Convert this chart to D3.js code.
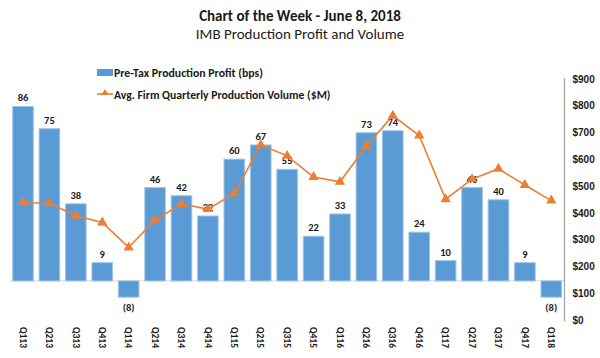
<!DOCTYPE html>
<html><head><meta charset="utf-8">
<script src="https://cdn.jsdelivr.net/npm/d3@7"></script>
<style>
body{margin:0;background:#fff;}
svg{display:block;font-family:Carlito,Lato,"Open Sans",sans-serif;}
</style></head>
<body><svg id="c" width="600" height="358"></svg>
<script>
const categories = ["Q113","Q213","Q313","Q413","Q114","Q214","Q314","Q414","Q115","Q215","Q315","Q415","Q116","Q216","Q316","Q416","Q117","Q217","Q317","Q417","Q118"];
const profit = [86,75,38,9,-8,46,42,32,60,67,55,22,33,73,74,24,10,46,40,9,-8];
const volume = [438,436,389,364,271,374,433,414,473,654,613,534,516,650,763,689,451,526,565,504,446];
const rightTicks = [0,100,200,300,400,500,600,700,800,900];
const title = "Chart of the Week - June 8, 2018";
const subtitle = "IMB Production Profit and Volume";
const legendLabels = ["Pre-Tax Production Profit (bps)","Avg. Firm Quarterly Production Volume ($M)"];

const svg = d3.select("#c");
const pTop = 78, pBottom = 321.5, pLeft = 9.8, pRight = 564.5;
const x = d3.scaleBand().domain(categories).range([pLeft, pRight]).paddingInner(0.22).paddingOuter(0.11);
const yL = d3.scaleLinear().domain([-20,100]).range([pBottom, pTop]);
const yR = d3.scaleLinear().domain([0,900]).range([pBottom-1.5, pTop+1]);

svg.append("text").attr("x",300).attr("y",21).attr("text-anchor","middle")
  .attr("font-size",15).attr("font-weight","bold").attr("fill","#1a1a1a").text(title);
svg.append("text").attr("x",300).attr("y",39).attr("text-anchor","middle")
  .attr("font-size",15).attr("fill","#1a1a1a").text(subtitle);

// zero line
svg.append("line").attr("x1",pLeft).attr("x2",pRight).attr("y1",yL(0)).attr("y2",yL(0))
  .attr("stroke","#d9d9d9").attr("stroke-width",1);

// bars
svg.append("g").selectAll("rect").data(profit).join("rect")
  .attr("x",(d,i)=>x(categories[i]))
  .attr("width",x.bandwidth())
  .attr("y",d=>yL(Math.max(0,d)))
  .attr("height",d=>Math.abs(yL(d)-yL(0)))
  .attr("fill","#5b9bd5").attr("stroke","#9fc4e8").attr("stroke-width",1);

// bar labels
svg.append("g").selectAll("text").data(profit).join("text")
  .attr("x",(d,i)=>x(categories[i])+x.bandwidth()/2)
  .attr("y",d=>d>=0? yL(d)-5 : yL(d)+14)
  .attr("text-anchor","middle").attr("font-size",10.5).attr("font-weight","bold").attr("fill","#1a1a1a")
  .text(d=>d<0?`(${-d})`:d);

// line
const line = d3.line().x((d,i)=>x(categories[i])+x.bandwidth()/2).y(d=>yR(d));
svg.append("path").datum(volume).attr("d",line).attr("fill","none")
  .attr("stroke","#ed7d31").attr("stroke-width",1.6);
const tri = d3.symbol().type(d3.symbolTriangle).size(46);
svg.append("g").selectAll("path").data(volume).join("path")
  .attr("transform",(d,i)=>`translate(${x(categories[i])+x.bandwidth()/2},${yR(d)})`)
  .attr("d",tri).attr("fill","#ed7d31");

// right axis
const axR = d3.axisRight(yR).tickValues(rightTicks).tickSize(0).tickPadding(8).tickFormat(d=>"$"+d);
const gR = svg.append("g").attr("transform",`translate(${pRight},0)`).call(axR);
gR.select(".domain").attr("stroke","#a6a6a6").attr("stroke-width",1.3).attr("d",`M0,${pTop}V${pBottom}`);
gR.selectAll("text").attr("font-size",10).attr("font-weight","bold").attr("fill","#1a1a1a").attr("font-family",null);

// x labels (rotated)
const gX = svg.append("g");
gX.selectAll("text").data(categories).join("text")
  .attr("transform",d=>`translate(${x(d)+x.bandwidth()/2},327) rotate(90)`)
  .attr("dy","0.35em").attr("text-anchor","start")
  .attr("font-size",9.5).attr("font-weight","bold").attr("fill","#1a1a1a").text(d=>d);

// legend
const lg = svg.append("g");
lg.append("rect").attr("x",97).attr("y",69).attr("width",16).attr("height",7).attr("fill","#5b9bd5");
lg.append("text").attr("x",114).attr("y",76.5).attr("font-size",11.8).attr("font-weight","bold").attr("fill","#1a1a1a").text(legendLabels[0]);
lg.append("line").attr("x1",97).attr("x2",113).attr("y1",94).attr("y2",94).attr("stroke","#ed7d31").attr("stroke-width",1.6);
lg.append("path").attr("transform","translate(105,93)").attr("d",d3.symbol().type(d3.symbolTriangle).size(22)).attr("fill","#ed7d31");
lg.append("text").attr("x",114).attr("y",98.5).attr("font-size",11.7).attr("font-weight","bold").attr("fill","#1a1a1a").text(legendLabels[1]);
</script></body></html>
